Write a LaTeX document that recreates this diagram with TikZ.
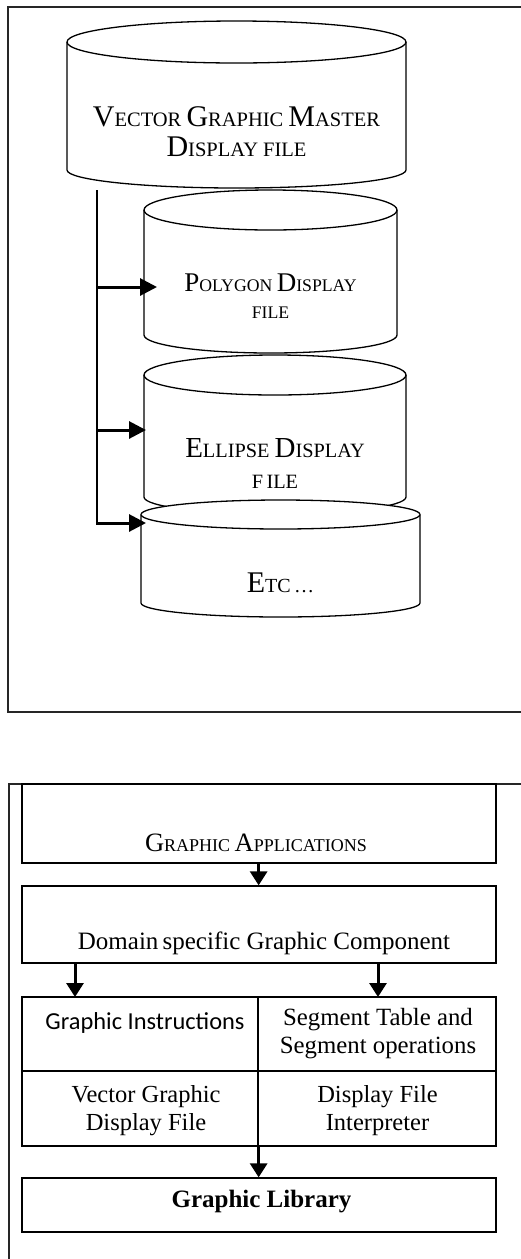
\documentclass[tikz,border=0pt]{standalone}
\usepackage{fontspec}
\setmainfont{Liberation Serif}
\newfontfamily\calib{Carlito}
\usetikzlibrary{arrows.meta}

% fake small caps: big initial, smaller upper-case rest
\newcommand{\scw}[4]{{\fontsize{#1}{#1}\selectfont #3}{\fontsize{#2}{#2}\selectfont #4}}

% cylinder: centre x, x radius, top centre y, bottom centre y, top y radius, bottom y radius
\newcommand{\dbcyl}[6]{%
  \filldraw[cylline] ({#1-#2},{-#3}) -- ({#1-#2},{-#4})
    arc[start angle=180,end angle=360,x radius=#2,y radius=#6]
    -- ({#1+#2},{-#3})
    arc[start angle=0,end angle=180,x radius=#2,y radius=#5] -- cycle;
  \draw[cylline] ({#1-#2},{-#3})
    arc[start angle=180,end angle=360,x radius=#2,y radius=#5];}

\begin{document}
\begin{tikzpicture}[x=1pt,y=1pt,
  cylline/.style={line width=1.3pt,fill=white,line join=round},
  frameline/.style={line width=1.3pt,draw=black!85},
  boxline/.style={draw,line width=1.3pt,rectangle,inner sep=0pt},
  thickarr/.style={line width=3pt,-{Triangle[length=17pt,width=17pt]}},
  smallarr/.style={line width=3pt,-{Triangle[length=14pt,width=17pt]}},
  lbl/.style={align=center,inner sep=0pt}]
\useasboundingbox (0,0) rectangle (520,-1259);

% ---------- display file hierarchy ----------
\draw[frameline] (8,-7) rectangle (540,-712);

\dbcyl{236.5}{169.5}{42}{170}{21}{18}
\dbcyl{270.5}{126.5}{210}{335}{20}{18}
\dbcyl{275}{131}{375}{497}{20}{17}
\dbcyl{280.5}{139.5}{514.5}{603}{14.5}{14}

\node[lbl,font=\fontsize{20.5}{30}\selectfont] (master) at (236.5,-132)
  {\scw{30}{20.5}{V}{ECTOR} \scw{30}{20.5}{G}{RAPHIC} \scw{30}{20.5}{M}{ASTER}\\
   \scw{30}{20.5}{D}{ISPLAY} FILE};
\node[lbl,font=\fontsize{17.7}{27}\selectfont] (poly) at (270.5,-296)
  {\scw{27}{17.7}{P}{OLYGON} \scw{27}{17.7}{D}{ISPLAY}\\ FILE};
\node[lbl,font=\fontsize{20.3}{31}\selectfont] (ellip) at (275,-463)
  {\scw{29}{20.3}{E}{LLIPSE} \scw{29}{20.3}{D}{ISPLAY}\\ F\,ILE};
\node[lbl,font=\fontsize{20}{20}\selectfont] (etc) at (280.5,-583)
  {\scw{30}{20}{E}{TC}\,\ldots};

% trunk line and branches
\coordinate (trunktop) at (97,-190);
\coordinate (trunkbot) at (97,-523);
\coordinate (polyin) at (157,-287);
\coordinate (ellipin) at (146,-430);
\coordinate (etcin) at (146,-523);
\draw[line width=1.3pt] (trunktop) -- (trunkbot);
\draw[thickarr] (trunktop |- polyin) -- (polyin);
\draw[thickarr] (trunktop |- ellipin) -- (ellipin);
\draw[thickarr] ([xshift=-0.65pt]trunkbot) -- (etcin);

% ---------- layered architecture ----------
\draw[frameline] (9,-784) rectangle (540,-1280);

\node[boxline,minimum width=474pt,minimum height=79pt] (ga) at (259,-823.5) {};
\node[lbl,font=\fontsize{18}{18}\selectfont] (gatext) at (256,-843)
  {\scw{26.5}{18}{G}{RAPHIC} \scw{26.5}{18}{A}{PPLICATIONS}};

\node[boxline,minimum width=474pt,minimum height=77pt] (dsgc) at (259,-924.5) {};
\node[lbl,font=\fontsize{25}{25}\selectfont] (dsgctext) at (264,-943)
  {Domain\,specific Graphic Component};

\node[boxline,minimum width=236pt,minimum height=74pt] (gi) at (140,-1034) {};
\node[boxline,minimum width=238pt,minimum height=74pt] (st) at (377,-1034) {};
\node[boxline,minimum width=236pt,minimum height=75pt] (vg) at (140,-1108.5) {};
\node[boxline,minimum width=238pt,minimum height=75pt] (dfi) at (377,-1108.5) {};

\node[lbl,font=\calib\fontsize{24.4}{24}\selectfont] (gitext) at (145,-1023) {Graphic Instructions};
\node[lbl,font=\fontsize{24.8}{28}\selectfont] (sttext) at (378,-1034)
  {Segment Table and\\Segment operations};
\node[lbl,font=\fontsize{24.5}{28}\selectfont] (vgtext) at (146,-1111)
  {Vector Graphic\\Display File};
\node[lbl,font=\fontsize{24.5}{28}\selectfont] (dfitext) at (377.5,-1111)
  {Display File\\Interpreter};

\node[boxline,minimum width=474pt,minimum height=54pt] (gl) at (259,-1205) {};
\node[lbl,font=\bfseries\fontsize{25}{25}\selectfont] (gltext) at (261.5,-1202) {Graphic Library};

% arrows between layers
\coordinate (dl) at (75,-997);
\coordinate (dr) at (378,-997);
\draw[smallarr] (ga.south -| vg.south east) -- (dsgc.north -| vg.south east);
\draw[smallarr] (dsgc.south -| dl) -- (dl);
\draw[smallarr] (dsgc.south -| dr) -- (dr);
\draw[smallarr] (vg.south east) -- (gl.north -| vg.south east);
\end{tikzpicture}
\end{document}
